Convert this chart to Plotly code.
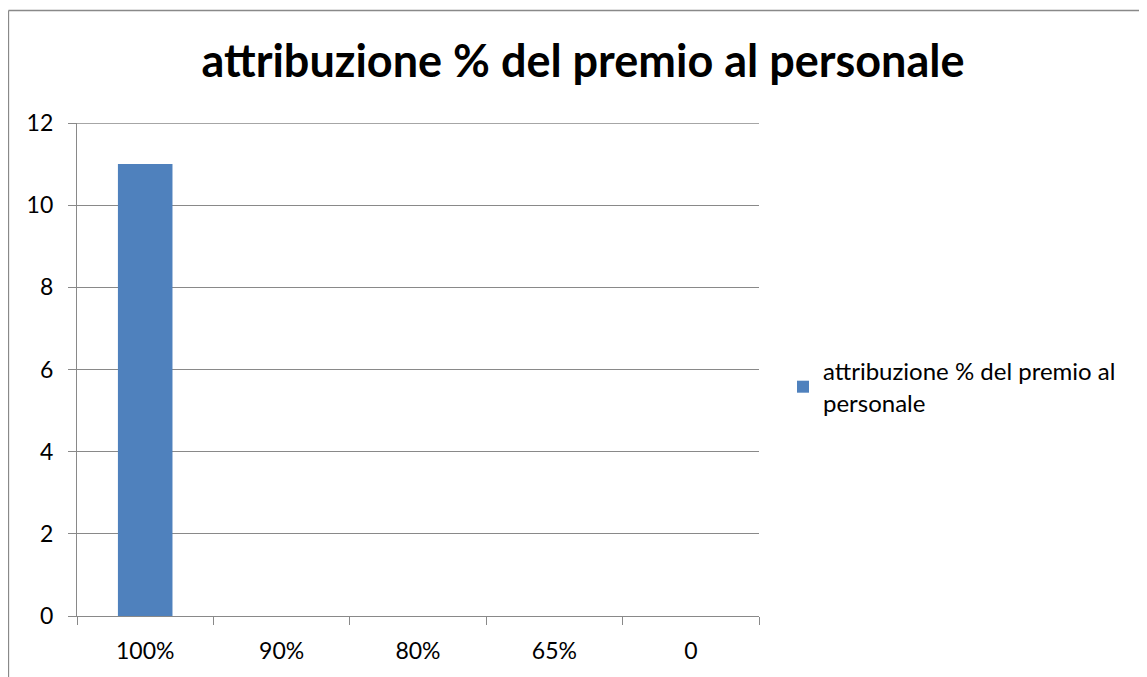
import plotly.graph_objects as go

categories = ["100%", "90%", "80%", "65%", "0"]
values = [11, 0, 0, 0, 0]
series_name = "attribuzione % del premio al<br>personale"
title_text = "attribuzione % del premio al personale"
y_ticks = [0, 2, 4, 6, 8, 10, 12]

# the page body adds an 8px offset, so layout is expressed in window pixels minus 8
OFF = 8
W, H = 1147 - OFF, 677 - OFF
L, R, T, B = 77 - OFF, 759 - OFF, 123 - OFF, 616 - OFF
FONT = "Lato"
GRAY = "#898989"

fig = go.Figure()
fig.add_trace(go.Bar(x=categories, y=values, name=series_name,
                     marker=dict(color="#4F81BD", line=dict(width=0)),
                     width=0.4, showlegend=True))

def px_x(p):
    return (p - OFF - L) / (R - L)

def px_y(p):
    return (B - (p - OFF)) / (B - T)

fig.update_layout(
    width=W, height=H,
    margin=dict(l=L, r=W - R, t=T, b=H - B, pad=0, autoexpand=False),
    paper_bgcolor="white", plot_bgcolor="white",
    font=dict(family=FONT, size=24, color="black"),
    title=dict(text="<b>" + title_text + "</b>", x=(583 - OFF) / W, xref="container",
               y=1 - (61 - OFF) / H, yref="container", xanchor="center", yanchor="middle",
               font=dict(family=FONT, size=45, color="black")),
    showlegend=True,
    legend=dict(x=px_x(783), y=px_y(349), xanchor="left", yanchor="top",
                font=dict(family=FONT, size=24, color="black"),
                bgcolor="rgba(0,0,0,0)", itemwidth=30, tracegroupgap=0),
    xaxis=dict(type="category", showline=True, linecolor=GRAY, linewidth=1.3,
               ticks="outside", tickson="boundaries", ticklen=8, tickcolor=GRAY,
               tickwidth=1.3, showgrid=False, zeroline=False, automargin=False,
               ticklabelstandoff=14,
               tickfont=dict(family=FONT, size=23, color="black")),
    yaxis=dict(range=[0, 12], tickvals=y_ticks, showline=True, linecolor=GRAY,
               linewidth=1.3, ticks="outside", ticklen=8, tickcolor=GRAY, tickwidth=1.3,
               showgrid=True, gridcolor=GRAY, gridwidth=1.3, zeroline=False,
               automargin=False, ticklabelstandoff=10,
               tickfont=dict(family=FONT, size=23, color="black")),
)

# top gridline at the range edge
fig.add_shape(type="line", xref="paper", yref="y", x0=0, x1=1, y0=12, y1=12,
              line=dict(color=GRAY, width=1.3))

# chart area border (cropped on right/bottom in the reference)
fig.add_shape(type="line", xref="paper", yref="paper",
              x0=px_x(8.5), y0=px_y(10.5), x1=px_x(1160), y1=px_y(10.5),
              line=dict(color=GRAY, width=1.3))
fig.add_shape(type="line", xref="paper", yref="paper",
              x0=px_x(8.5), y0=px_y(10.5), x1=px_x(8.5), y1=px_y(690),
              line=dict(color=GRAY, width=1.3))

fig.write_html("out.html")
